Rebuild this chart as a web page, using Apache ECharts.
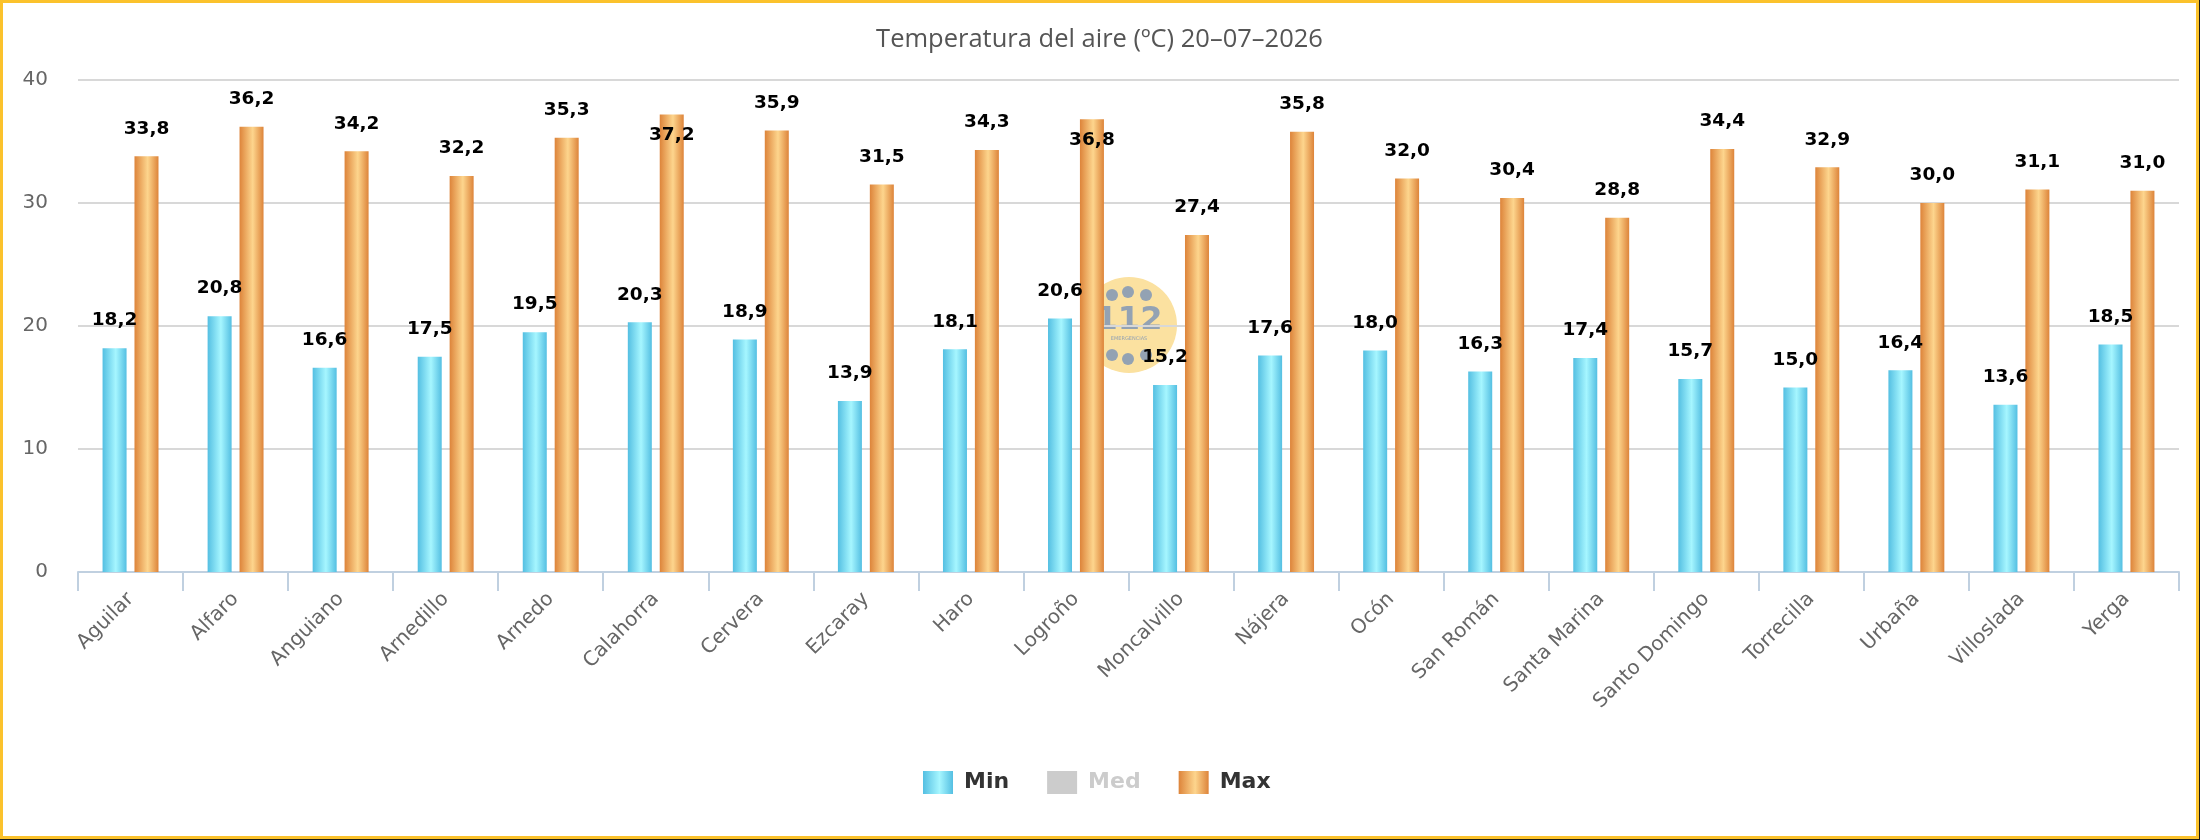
<!DOCTYPE html>
<html>
<head>
<meta charset="utf-8">
<title>Temperatura del aire</title>
<script src="https://cdn.jsdelivr.net/npm/echarts@6/dist/echarts.min.js"></script>
<style>
  html, body { margin: 0; padding: 0; background: #1a1a1a; }
  #chart { width: 2199px; height: 839px; background: #fff; }
</style>
</head>
<body>
<div id="chart"></div>
<script>
// stations and daily air temperature (ºC)
var stations = ['Aguilar', 'Alfaro', 'Anguiano', 'Arnedillo', 'Arnedo', 'Calahorra', 'Cervera', 'Ezcaray', 'Haro', 'Logroño',
  'Moncalvillo', 'Nájera', 'Ocón', 'San Román', 'Santa Marina', 'Santo Domingo', 'Torrecilla', 'Urbaña', 'Villoslada', 'Yerga'];
var tMin = [18.2, 20.8, 16.6, 17.5, 19.5, 20.3, 18.9, 13.9, 18.1, 20.6, 15.2, 17.6, 18.0, 16.3, 17.4, 15.7, 15.0, 16.4, 13.6, 18.5];
var tMed = [];
var tMax = [33.8, 36.2, 34.2, 32.2, 35.3, 37.2, 35.9, 31.5, 34.3, 36.8, 27.4, 35.8, 32.0, 30.4, 28.8, 34.4, 32.9, 30.0, 31.1, 31.0];
var yTicks = [0, 10, 20, 30, 40];

(function() {
  var chart = echarts.init(document.getElementById('chart'), null, { renderer: 'canvas' });

  function grad(edge, mid) {
    return new echarts.graphic.LinearGradient(0, 0, 1, 0, [
      { offset: 0, color: edge },
      { offset: 0.55, color: mid },
      { offset: 1, color: edge }
    ]);
  }
  var minColor = grad('#54bfe2', '#a6f6ff');
  var maxColor = grad('#dd843a', '#fdd58d');

  function fmt(p) { return Number(p.value).toFixed(1).replace('.', ','); }

  var labelBase = {
    show: true,
    position: 'top',
    distance: 18,
    color: '#000',
    fontFamily: 'DejaVu Sans',
    fontWeight: 'bold',
    fontSize: 18.5,
    formatter: fmt
  };

  // labels that would leave the plot area go inside the bar top
  function withLabels(arr) {
    return arr.map(function(v) {
      if (v > 36.5) {
        return { value: v, label: { position: 'insideTop', distance: 11 } };
      }
      return v;
    });
  }

  // 112 watermark behind the bars
  var wmX = 1129, wmY = 325, dot = '#93a2b3';
  var dots = [[-17, -30], [-1, -33], [17, -30], [-17, 30], [-1, 34], [17, 30]];
  var watermark = [
    { type: 'circle', z: -1, shape: { cx: wmX, cy: wmY, r: 48 }, style: { fill: '#fbe1a0' } }
  ];
  dots.forEach(function(d) {
    watermark.push({ type: 'circle', z: -1, shape: { cx: wmX + d[0], cy: wmY + d[1], r: 6 }, style: { fill: dot } });
  });
  watermark.push({ type: 'text', z: -1, x: wmX, y: wmY - 4,
    style: { text: '112', fill: dot, font: 'bold 32px "DejaVu Sans"', align: 'center', verticalAlign: 'middle' } });
  watermark.push({ type: 'text', z: -1, x: wmX, y: wmY + 14,
    style: { text: 'EMERGENCIAS', fill: dot, font: '5px "DejaVu Sans"', align: 'center', verticalAlign: 'middle' } });

  chart.setOption({
    animation: false,
    backgroundColor: '#fff',
    title: {
      text: 'Temperatura del aire (ºC) 20–07–2026',
      left: 'center',
      top: 22,
      textStyle: { color: '#555', fontFamily: 'Open Sans', fontWeight: 'normal', fontSize: 25.5 }
    },
    legend: {
      left: 918,
      top: 766,
      itemWidth: 30,
      itemHeight: 23,
      itemGap: 38,
      icon: 'rect',
      inactiveColor: '#ccc',
      textStyle: { color: '#333', fontFamily: 'DejaVu Sans', fontWeight: 'bold', fontSize: 22, padding: [0, 0, 0, 6] },
      data: ['Min', 'Med', 'Max'],
      selected: { Med: false }
    },
    grid: { left: 78, right: 20, top: 80, bottom: 267, containLabel: false },
    xAxis: {
      type: 'category',
      data: stations,
      axisLine: { lineStyle: { color: '#c0d0e0', width: 2 } },
      axisTick: { show: true, length: 19, lineStyle: { color: '#c0d0e0', width: 2 } },
      axisLabel: { interval: 0, rotate: 45, margin: 24, color: '#666', fontFamily: 'DejaVu Sans', fontSize: 20 }
    },
    yAxis: {
      type: 'value',
      min: yTicks[0],
      max: yTicks[yTicks.length - 1],
      interval: 10,
      axisLine: { show: false },
      axisTick: { show: false },
      axisLabel: { margin: 30, color: '#666', fontFamily: 'DejaVu Sans', fontSize: 20 },
      splitLine: { lineStyle: { color: '#d8d8d8', width: 2 } }
    },
    graphic: watermark.concat([
      { type: 'rect', z: 100, silent: true, shape: { x: 1.5, y: 1.5, width: 2196, height: 836 },
        style: { fill: null, stroke: '#fbc22c', lineWidth: 3 } }
    ]),
    series: [
      { name: 'Min', type: 'bar', data: tMin, barWidth: 24, barGap: '33%',
        itemStyle: { color: minColor }, label: labelBase },
      { name: 'Med', type: 'bar', data: tMed, barWidth: 24, barGap: '33%',
        itemStyle: { color: '#c8c8c8' }, label: labelBase },
      { name: 'Max', type: 'bar', data: withLabels(tMax), barWidth: 24, barGap: '33%',
        itemStyle: { color: maxColor }, label: labelBase }
    ]
  });
  window.addEventListener('resize', function() { chart.resize(); });
})();
</script>
</body>
</html>
